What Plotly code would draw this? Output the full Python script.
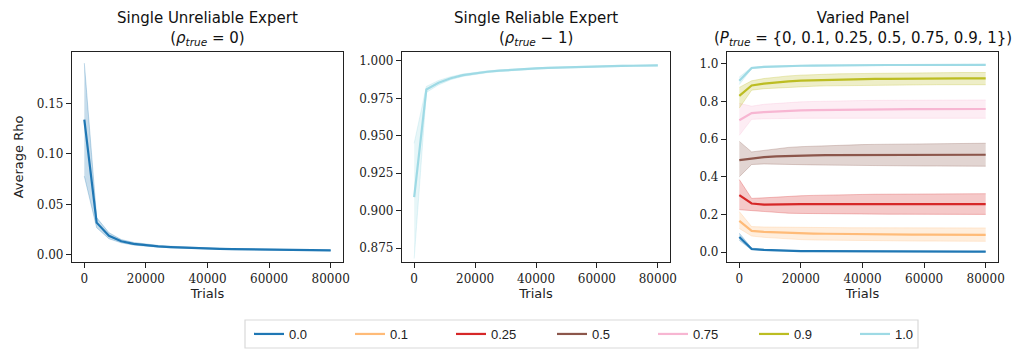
import plotly.graph_objects as go

# ---------------- data ----------------
trials = [0, 4000, 8000, 12000, 16000, 20000, 24000, 28000, 32000, 36000, 40000,
          44000, 48000, 52000, 56000, 60000, 64000, 68000, 72000, 76000, 80000]

# Panel 1: single unreliable expert (rho_true = 0)
unrel_mean = [0.134, 0.032, 0.019, 0.0135, 0.011, 0.0095, 0.0085, 0.0078, 0.0072, 0.0067, 0.0063,
              0.0060, 0.0057, 0.0055, 0.0053, 0.0051, 0.0050, 0.0048, 0.0047, 0.0046, 0.0045]
unrel_lo = [0.078, 0.027, 0.016, 0.012, 0.0098, 0.0085, 0.0077, 0.0071, 0.0066, 0.0061, 0.0058,
            0.0055, 0.0053, 0.0051, 0.0049, 0.0047, 0.0046, 0.0045, 0.0044, 0.0043, 0.0042]
unrel_hi = [0.190, 0.037, 0.022, 0.0152, 0.0124, 0.0106, 0.0094, 0.0086, 0.0079, 0.0073, 0.0068,
            0.0065, 0.0062, 0.0059, 0.0057, 0.0055, 0.0054, 0.0052, 0.0050, 0.0049, 0.0048]

# Panel 2: single reliable expert (rho_true = 1)
rel_mean = [0.909, 0.981, 0.9855, 0.9885, 0.9905, 0.9918, 0.9928, 0.9935, 0.9941, 0.9946, 0.9950,
            0.9954, 0.9957, 0.9960, 0.9962, 0.9964, 0.9966, 0.9967, 0.9968, 0.9969, 0.9970]
rel_lo = [0.868, 0.979, 0.984, 0.9875, 0.9897, 0.9911, 0.9922, 0.9930, 0.9936, 0.9942, 0.9946,
          0.9950, 0.9953, 0.9956, 0.9958, 0.9960, 0.9962, 0.9963, 0.9964, 0.9965, 0.9966]
rel_hi = [0.945, 0.983, 0.987, 0.9895, 0.9913, 0.9925, 0.9934, 0.9940, 0.9946, 0.9950, 0.9954,
          0.9958, 0.9961, 0.9964, 0.9966, 0.9968, 0.9970, 0.9971, 0.9972, 0.9973, 0.9974]

# Panel 3: varied panel
panel_labels = ["0.0", "0.1", "0.25", "0.5", "0.75", "0.9", "1.0"]
panel_colors = ["#1f77b4", "#ffbb78", "#d62728", "#8c564b", "#f7b6d2", "#bcbd22", "#9edae5"]

p00_mean = [0.080, 0.016, 0.011, 0.008, 0.006, 0.005, 0.0045, 0.004, 0.0035, 0.003, 0.003,
            0.0028, 0.0026, 0.0025, 0.0024, 0.0023, 0.0022, 0.0021, 0.002, 0.002, 0.002]
p00_lo = [0.062, 0.012, 0.008, 0.006, 0.004, 0.0035, 0.003, 0.0027, 0.0023, 0.002, 0.002,
          0.0018, 0.0017, 0.0016, 0.0015, 0.0015, 0.0014, 0.0013, 0.0012, 0.0012, 0.0012]
p00_hi = [0.100, 0.021, 0.014, 0.010, 0.008, 0.0065, 0.006, 0.0053, 0.0047, 0.004, 0.004,
          0.0038, 0.0035, 0.0034, 0.0033, 0.0031, 0.0030, 0.0029, 0.0028, 0.0028, 0.0028]

p01_mean = [0.165, 0.112, 0.107, 0.104, 0.101, 0.099, 0.098, 0.097, 0.096, 0.095, 0.095,
            0.094, 0.094, 0.093, 0.093, 0.093, 0.092, 0.092, 0.092, 0.091, 0.091]
p01_lo = [0.125, 0.085, 0.078, 0.073, 0.069, 0.066, 0.064, 0.063, 0.062, 0.061, 0.060,
          0.060, 0.059, 0.059, 0.058, 0.058, 0.058, 0.057, 0.057, 0.057, 0.057]
p01_hi = [0.215, 0.135, 0.133, 0.132, 0.131, 0.130, 0.130, 0.130, 0.130, 0.129, 0.129,
          0.129, 0.129, 0.129, 0.129, 0.128, 0.128, 0.128, 0.128, 0.128, 0.128]

p025_mean = [0.302, 0.258, 0.252, 0.254, 0.255, 0.255, 0.255, 0.255, 0.255, 0.255, 0.255,
             0.255, 0.255, 0.255, 0.255, 0.255, 0.255, 0.255, 0.255, 0.255, 0.255]
p025_lo = [0.225, 0.220, 0.212, 0.208, 0.206, 0.205, 0.204, 0.203, 0.203, 0.202, 0.202,
           0.202, 0.201, 0.201, 0.201, 0.201, 0.200, 0.200, 0.200, 0.200, 0.200]
p025_hi = [0.385, 0.285, 0.288, 0.293, 0.296, 0.299, 0.301, 0.303, 0.304, 0.305, 0.306,
           0.307, 0.307, 0.308, 0.308, 0.309, 0.309, 0.310, 0.310, 0.310, 0.310]

p05_mean = [0.488, 0.497, 0.504, 0.508, 0.511, 0.513, 0.514, 0.515, 0.515, 0.516, 0.516,
            0.516, 0.516, 0.517, 0.517, 0.517, 0.517, 0.517, 0.517, 0.517, 0.517]
p05_lo = [0.400, 0.465, 0.468, 0.466, 0.465, 0.464, 0.463, 0.462, 0.461, 0.460, 0.460,
          0.459, 0.459, 0.458, 0.458, 0.457, 0.457, 0.457, 0.456, 0.456, 0.456]
p05_hi = [0.588, 0.532, 0.540, 0.550, 0.556, 0.560, 0.563, 0.566, 0.568, 0.570, 0.571,
          0.572, 0.573, 0.574, 0.575, 0.576, 0.577, 0.577, 0.578, 0.578, 0.578]

p075_mean = [0.700, 0.738, 0.744, 0.748, 0.751, 0.753, 0.754, 0.755, 0.756, 0.757, 0.757,
             0.758, 0.758, 0.758, 0.759, 0.759, 0.759, 0.759, 0.760, 0.760, 0.760]
p075_lo = [0.620, 0.705, 0.708, 0.710, 0.711, 0.711, 0.711, 0.711, 0.711, 0.711, 0.711,
           0.711, 0.711, 0.711, 0.711, 0.711, 0.711, 0.711, 0.711, 0.711, 0.711]
p075_hi = [0.790, 0.775, 0.785, 0.790, 0.795, 0.798, 0.800, 0.802, 0.803, 0.804, 0.805,
           0.806, 0.806, 0.807, 0.807, 0.807, 0.808, 0.808, 0.808, 0.808, 0.808]

p09_mean = [0.830, 0.885, 0.895, 0.902, 0.907, 0.911, 0.913, 0.915, 0.917, 0.918, 0.919,
            0.920, 0.920, 0.921, 0.921, 0.922, 0.922, 0.922, 0.923, 0.923, 0.923]
p09_lo = [0.765, 0.860, 0.868, 0.872, 0.876, 0.879, 0.881, 0.883, 0.884, 0.885, 0.886,
          0.887, 0.887, 0.888, 0.888, 0.888, 0.889, 0.889, 0.889, 0.889, 0.889]
p09_hi = [0.875, 0.910, 0.922, 0.930, 0.936, 0.940, 0.943, 0.945, 0.947, 0.948, 0.949,
          0.950, 0.951, 0.952, 0.952, 0.953, 0.953, 0.953, 0.954, 0.954, 0.954]

p10_mean = [0.910, 0.978, 0.984, 0.987, 0.989, 0.990, 0.991, 0.992, 0.992, 0.993, 0.993,
            0.993, 0.994, 0.994, 0.994, 0.994, 0.995, 0.995, 0.995, 0.995, 0.995]
p10_lo = [0.890, 0.974, 0.981, 0.984, 0.986, 0.988, 0.989, 0.990, 0.990, 0.991, 0.991,
          0.991, 0.992, 0.992, 0.992, 0.992, 0.993, 0.993, 0.993, 0.993, 0.993]
p10_hi = [0.930, 0.982, 0.987, 0.990, 0.992, 0.992, 0.993, 0.994, 0.994, 0.995, 0.995,
          0.995, 0.996, 0.996, 0.996, 0.996, 0.997, 0.997, 0.997, 0.997, 0.997]

panel_means = [p00_mean, p01_mean, p025_mean, p05_mean, p075_mean, p09_mean, p10_mean]
panel_los = [p00_lo, p01_lo, p025_lo, p05_lo, p075_lo, p09_lo, p10_lo]
panel_his = [p00_hi, p01_hi, p025_hi, p05_hi, p075_hi, p09_hi, p10_hi]

x_ticks = [0, 20000, 40000, 60000, 80000]

# ---------------- helpers ----------------
def rgba(hex_color, a):
    h = hex_color.lstrip("#")
    r, g, b = int(h[0:2], 16), int(h[2:4], 16), int(h[4:6], 16)
    return f"rgba({r},{g},{b},{a})"


fig = go.Figure()


def add_band(xa, ya, lo, hi, mean, color, name, showlegend):
    fig.add_trace(go.Scatter(x=trials, y=lo, mode="lines", xaxis=xa, yaxis=ya,
                             line=dict(color=rgba(color, 0.35), width=0.8),
                             showlegend=False, hoverinfo="skip"))
    fig.add_trace(go.Scatter(x=trials, y=hi, mode="lines", xaxis=xa, yaxis=ya,
                             line=dict(color=rgba(color, 0.35), width=0.8),
                             fill="tonexty", fillcolor=rgba(color, 0.25),
                             showlegend=False, hoverinfo="skip"))
    fig.add_trace(go.Scatter(x=trials, y=mean, mode="lines", xaxis=xa, yaxis=ya,
                             line=dict(color=color, width=2.2), name=name,
                             showlegend=showlegend))


add_band("x", "y", unrel_lo, unrel_hi, unrel_mean, "#1f77b4", "unreliable", False)
add_band("x2", "y2", rel_lo, rel_hi, rel_mean, "#9edae5", "reliable", False)
for lab, col, m, lo, hi in zip(panel_labels, panel_colors, panel_means, panel_los, panel_his):
    add_band("x3", "y3", lo, hi, m, col, lab, True)

W, H = 1013, 349
def px(v):
    return v / W
def py(v):
    return 1 - v / H

tick_font = dict(family="DejaVu Serif, serif", size=12, color="#222")
label_font = dict(family="DejaVu Sans, sans-serif", size=13, color="#222")

ydom = [py(262), py(52)]
common_x = dict(range=[-4000, 84000], tickvals=x_ticks, ticktext=[str(v) for v in x_ticks],
                showline=True, linecolor="#222", linewidth=1.2, mirror=True,
                ticks="outside", ticklen=5, tickcolor="#222", showgrid=False, zeroline=False,
                tickfont=tick_font, automargin=False, ticklabeloverflow="allow",
                title=dict(text="Trials", font=label_font, standoff=4))
common_y = dict(showline=True, linecolor="#222", linewidth=1.2, mirror=True,
                ticks="outside", ticklen=5, tickcolor="#222", showgrid=False, zeroline=False,
                tickfont=tick_font, automargin=False, ticklabeloverflow="allow")

fig.update_layout(
    width=W, height=H,
    margin=dict(l=0, r=0, t=0, b=0),
    plot_bgcolor="white", paper_bgcolor="white",
    xaxis=dict(domain=[px(72), px(343)], anchor="y", **common_x),
    xaxis2=dict(domain=[px(402), px(670)], anchor="y2", **common_x),
    xaxis3=dict(domain=[px(727), px(998)], anchor="y3", **common_x),
    yaxis=dict(domain=ydom, anchor="x", range=[-0.007, 0.201],
               tickvals=[0.0, 0.05, 0.10, 0.15], tickformat=".2f",
               title=dict(text="Average Rho", font=label_font, standoff=10), **common_y),
    yaxis2=dict(domain=ydom, anchor="x2", range=[0.8657, 1.006],
                tickvals=[0.875, 0.9, 0.925, 0.95, 0.975, 1.0], tickformat=".3f", **common_y),
    yaxis3=dict(domain=ydom, anchor="x3", range=[-0.053, 1.063],
                tickvals=[0.0, 0.2, 0.4, 0.6, 0.8, 1.0], tickformat=".1f", **common_y),
    legend=dict(orientation="h", x=px(249), y=py(319), xanchor="left", yanchor="top",
                traceorder="normal",
                borderwidth=0, bgcolor="rgba(0,0,0,0)",
                font=dict(family="Liberation Sans, Arial, sans-serif", size=13, color="#222"),
                entrywidth=56, entrywidthmode="pixels", tracegroupgap=0),
)

# legend frame (matplotlib-style box)
fig.add_shape(type="rect", xref="paper", yref="paper",
              x0=px(245), x1=px(918), y0=py(348), y1=py(320),
              line=dict(color="#d9d9d9", width=1.2), fillcolor="rgba(0,0,0,0)", layer="below")

title_font = dict(family="DejaVu Sans, sans-serif", size=15, color="#111")
titles = [
    ((72 + 343) / 2, "Single Unreliable Expert<br>(<i>ρ</i><sub><i>true</i></sub> = 0)"),
    ((402 + 670) / 2, "Single Reliable Expert<br>(<i>ρ</i><sub><i>true</i></sub> − 1)"),
    ((727 + 998) / 2, "Varied Panel<br>(<i>P</i><sub><i>true</i></sub> = {0, 0.1, 0.25, 0.5, 0.75, 0.9, 1})"),
]
for cx, txt in titles:
    fig.add_annotation(x=px(cx), y=py(50), xref="paper", yref="paper",
                       xanchor="center", yanchor="bottom", showarrow=False,
                       text=txt, font=title_font, align="center")

fig.write_html("out.html", config={"displayModeBar": False},
               post_script="document.body.style.margin='0';document.body.style.overflow='hidden';")
